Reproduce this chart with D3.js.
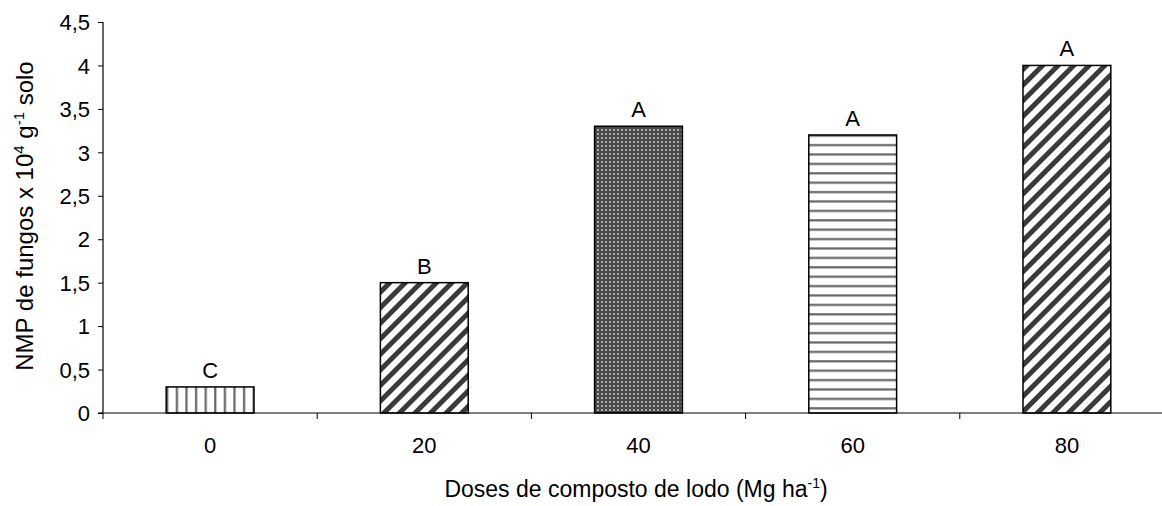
<!DOCTYPE html>
<html><head><meta charset="utf-8">
<script src="https://cdn.jsdelivr.net/npm/d3@7"></script>
<style>body{margin:0;background:#fff}svg{display:block}text{font-family:"Liberation Sans",Arial,sans-serif;fill:#000}</style>
</head><body><svg id="c" width="1162" height="506"></svg>
<script>
const categories = ["0","20","40","60","80"];
const values = [0.3, 1.5, 3.3, 3.2, 4.0];
const letters = ["C","B","A","A","A"];
const patterns = ["vert","diag","dots","horiz","diag"];
const yTicks = [0,0.5,1,1.5,2,2.5,3,3.5,4,4.5];

const svg = d3.select("#c");
const m = {left:103, top:22, right:-12, bottom:93};
const W = 1162, H = 506;
const FS = 22;
const x = d3.scaleBand().domain(categories).range([m.left, W - m.right]).paddingInner(0.59).paddingOuter(0.295);
const xb = d3.scaleBand().domain(categories).range([m.left, W - m.right]);
const y = d3.scaleLinear().domain([0,4.5]).range([H - m.bottom, m.top]);

const defs = svg.append("defs");
let p = defs.append("pattern").attr("id","vert").attr("patternUnits","userSpaceOnUse").attr("width",9.6).attr("height",10);
p.append("rect").attr("width",9.6).attr("height",10).attr("fill","#fff");
p.append("rect").attr("x",3).attr("width",2.2).attr("height",10).attr("fill","#666");
p = defs.append("pattern").attr("id","horiz").attr("patternUnits","userSpaceOnUse").attr("width",10).attr("height",9.4);
p.append("rect").attr("width",10).attr("height",9.4).attr("fill","#fff");
p.append("rect").attr("y",3).attr("height",2.2).attr("width",10).attr("fill","#666");
p = defs.append("pattern").attr("id","diag").attr("patternUnits","userSpaceOnUse").attr("width",11).attr("height",11).attr("patternTransform","rotate(45)");
p.append("rect").attr("width",11).attr("height",11).attr("fill","#fff");
p.append("rect").attr("x",0).attr("width",5).attr("height",11).attr("fill","#3a3a3a");
p = defs.append("pattern").attr("id","dots").attr("patternUnits","userSpaceOnUse").attr("width",4).attr("height",4);
p.append("rect").attr("width",4).attr("height",4).attr("fill","#4a4a4a");
p.append("rect").attr("x",1).attr("y",1).attr("width",2).attr("height",2).attr("fill","#aaa");

svg.selectAll("rect.bar").data(values).join("rect").attr("class","bar")
  .attr("x",(d,i)=>x(categories[i])).attr("width",x.bandwidth())
  .attr("y",d=>y(d)).attr("height",d=>y(0)-y(d))
  .attr("fill",(d,i)=>`url(#${patterns[i]})`).attr("stroke","#000").attr("stroke-width",1.5);

svg.selectAll("text.let").data(values).join("text").attr("class","let")
  .attr("x",(d,i)=>x(categories[i])+x.bandwidth()/2).attr("y",d=>y(d)-9)
  .attr("text-anchor","middle").attr("font-size",FS).text((d,i)=>letters[i]);

const ya = svg.append("g").attr("transform",`translate(${m.left},0)`)
  .call(d3.axisLeft(y).tickValues(yTicks).tickSize(5).tickFormat(d=>String(d).replace(".",",")));
ya.select(".domain").attr("stroke","#000").attr("stroke-width",1.2).attr("d",`M0,${y(0)}V${y(4.5)}`);
ya.selectAll(".tick line").attr("stroke","#000");
ya.selectAll(".tick text").attr("font-size",FS).attr("x",-13).attr("dy","0.35em")
  .attr("font-family","Liberation Sans, Arial, sans-serif");

const xa = svg.append("g").attr("transform",`translate(0,${y(0)})`);
xa.append("line").attr("x1",m.left-5).attr("x2",W).attr("stroke","#000").attr("stroke-width",1.2);
xa.selectAll("line.t").data(categories).join("line").attr("class","t")
  .attr("x1",d=>xb(d)+xb.bandwidth()).attr("x2",d=>xb(d)+xb.bandwidth()).attr("y1",0).attr("y2",6).attr("stroke","#000");
xa.append("line").attr("x1",m.left).attr("x2",m.left).attr("y1",0).attr("y2",6).attr("stroke","#000");
xa.selectAll("text").data(categories).join("text")
  .attr("x",d=>xb(d)+xb.bandwidth()/2).attr("y",40)
  .attr("text-anchor","middle").attr("font-size",FS).text(d=>d);

const xt = svg.append("text").attr("x",636).attr("y",497).attr("text-anchor","middle").attr("font-size",23);
xt.append("tspan").text("Doses de composto de lodo (Mg ha");
xt.append("tspan").attr("dy",-9).attr("font-size",14).text("-1");
xt.append("tspan").attr("dy",9).text(")");

const yt = svg.append("text").attr("transform",`translate(33,216) rotate(-90)`).attr("text-anchor","middle").attr("font-size",24);
yt.append("tspan").text("NMP de fungos x 10");
yt.append("tspan").attr("dy",-9).attr("font-size",15).text("4");
yt.append("tspan").attr("dy",9).text(" g");
yt.append("tspan").attr("dy",-9).attr("font-size",15).text("-1");
yt.append("tspan").attr("dy",9).text(" solo");
</script></body></html>
